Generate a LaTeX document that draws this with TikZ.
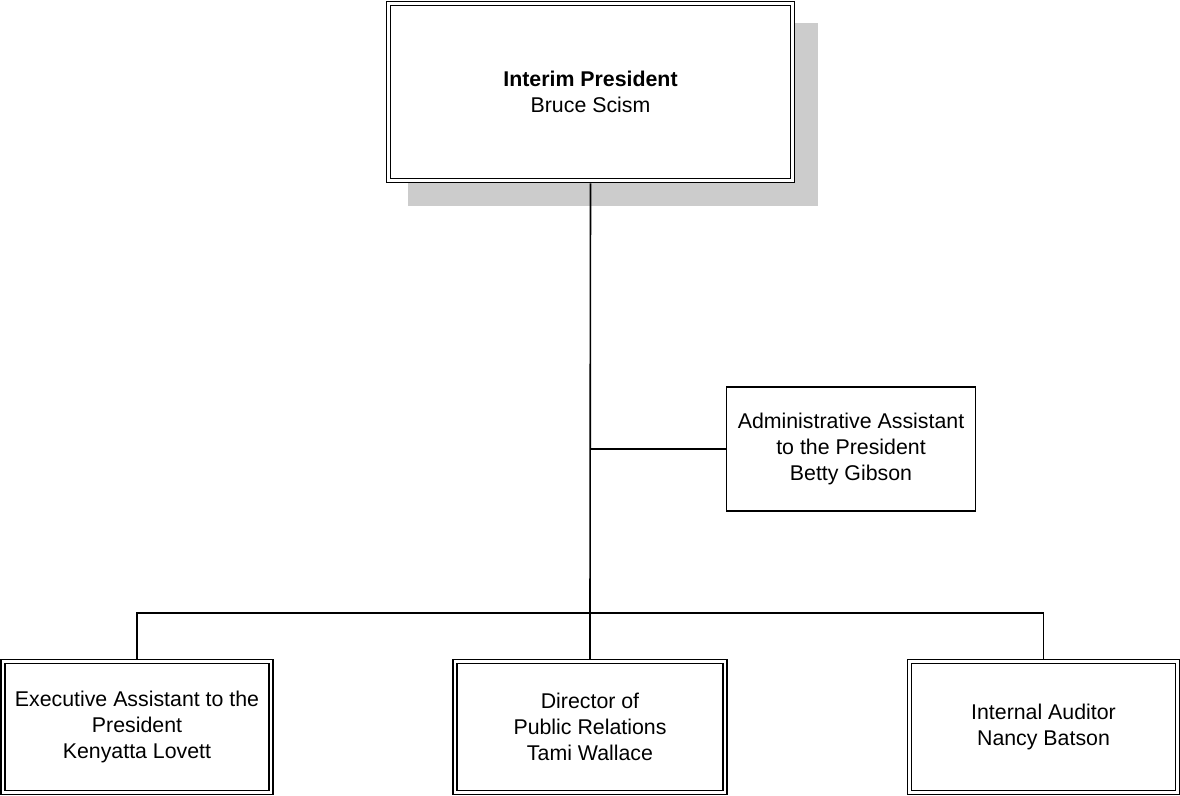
\documentclass[tikz,border=0pt]{standalone}
\usepackage{fontspec}
\setmainfont{Liberation Sans}
\usetikzlibrary{shadows}

\begin{document}
\begin{tikzpicture}[x=0.75pt, y=-0.75pt,
  txt/.style={align=center, font=\fontsize{16}{19.5}\selectfont, inner sep=0pt},
  dbox/.style={txt, draw, fill=white, double, double distance=2pt, line width=1.1pt, outer sep=2.1pt},
  sbox/.style={txt, draw, fill=white, line width=1.1pt},
  link/.style={line width=1.2pt}]

\useasboundingbox (0,0) rectangle (1180,795);

% Nodes (positions)
\node[dbox, minimum width=303pt, minimum height=132.75pt,
  drop shadow={shadow xshift=16.9pt, shadow yshift=-16.9pt, opacity=1, fill=black!20, draw=black!20, line width=4.5pt}]
  (pres) at (590.5, 92) {\textbf{Interim President}\\Bruce Scism};
\node[sbox, minimum width=186.75pt, minimum height=93pt] (admin) at (851, 449) {Administrative Assistant\\to the President\\Betty Gibson};
\node[dbox, minimum width=201pt, minimum height=98.25pt] (exec) at (137, 727) {Executive Assistant to the\\President\\Kenyatta Lovett};
\node[dbox, minimum width=202.5pt, minimum height=98.25pt] (pr) at (590, 727) {Director of\\Public Relations\\Tami Wallace};
\node[dbox, minimum width=201pt, minimum height=98.25pt] (audit) at (1043.5, 727) {Internal Auditor\\Nancy Batson};

\coordinate (bus) at (590, 613);

% Lines
\draw[link] (pres.south) -- (bus);
\draw[link] (admin.west) -- (admin.west -| pres.south);
\draw[link] (exec.north) |- (bus) -| (audit.north);
\draw[link] (pr.north) -- (bus);

\end{tikzpicture}
\end{document}
